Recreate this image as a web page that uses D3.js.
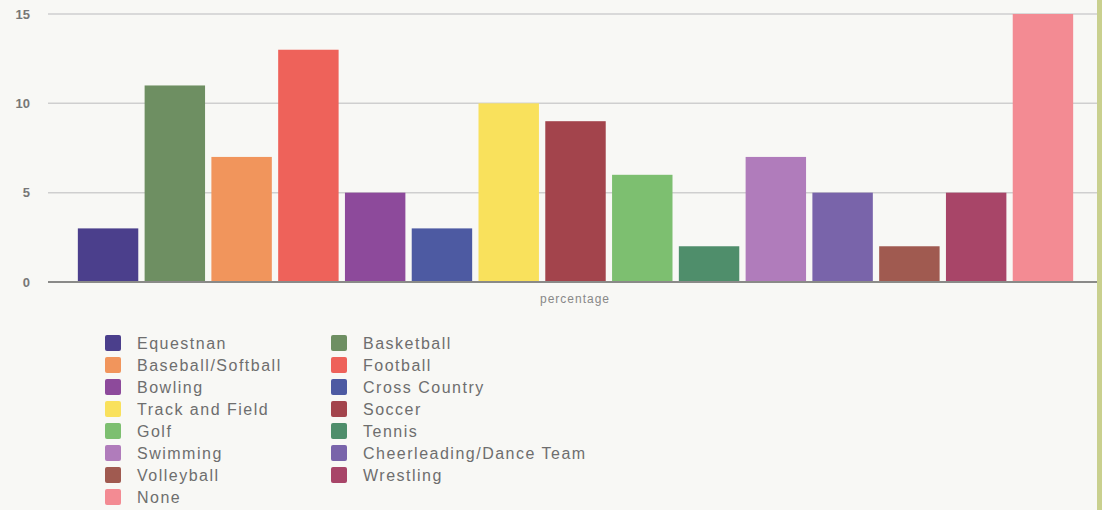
<!DOCTYPE html>
<html>
<head>
<meta charset="utf-8">
<script src="https://cdn.jsdelivr.net/npm/d3@7"></script>
<style>
  body { margin: 0; background: #f8f8f5; }
  svg { display: block; }
</style>
</head>
<body>
<div id="chart"></div>
<script>
// sports data
const sports = ["Equestnan", "Basketball", "Baseball/Softball", "Football", "Bowling",
  "Cross Country", "Track and Field", "Soccer", "Golf", "Tennis", "Swimming",
  "Cheerleading/Dance Team", "Volleyball", "Wrestling", "None"];
const values = [3, 11, 7, 13, 5, 3, 10, 9, 6, 2, 7, 5, 2, 5, 15];
const colors = ["#4b3f8c", "#6e8f62", "#f1955c", "#ee625a", "#8d4a9b",
  "#4d5aa2", "#f9e15c", "#a3444c", "#7dbf70", "#4f8e6b", "#b07cbb",
  "#7964aa", "#a05a50", "#a84568", "#f38b93"];
const yTicks = [0, 5, 10, 15];

const width = 1102, height = 510;

const svg = d3.select("#chart")
    .append("svg")
    .attr("width", width)
    .attr("height", height);

// scales
const x = d3.scaleBand()
    .domain(sports)
    .range([74.5, 1076.5])
    .paddingInner(0.095)
    .paddingOuter(0.05);

const y = d3.scaleLinear()
    .domain([0, 15])
    .range([282, 14]);

// gridlines
svg.append("g")
    .selectAll("line")
    .data(yTicks.filter(d => d > 0))
    .join("line")
    .attr("x1", 48)
    .attr("x2", 1097)
    .attr("y1", d => y(d))
    .attr("y2", d => y(d))
    .attr("stroke", "#cfcfcf")
    .attr("stroke-width", 1.5);

// y tick labels
svg.append("g")
    .selectAll("text")
    .data(yTicks)
    .join("text")
    .attr("x", 30)
    .attr("y", d => y(d))
    .attr("dy", "0.35em")
    .attr("text-anchor", "end")
    .style("font-family", "Liberation Sans, Arial, sans-serif")
    .style("font-size", "13px")
    .style("font-weight", "bold")
    .style("fill", "#777")
    .text(d => d);

// bars
svg.append("g")
    .selectAll("rect")
    .data(sports)
    .join("rect")
    .attr("x", d => x(d))
    .attr("width", x.bandwidth())
    .attr("y", (d, i) => y(values[i]))
    .attr("height", (d, i) => y(0) - y(values[i]))
    .attr("fill", (d, i) => colors[i]);

// baseline
svg.append("line")
    .attr("x1", 48)
    .attr("x2", 1097)
    .attr("y1", y(0))
    .attr("y2", y(0))
    .attr("stroke", "#8a8a88")
    .attr("stroke-width", 2);

// x axis label
svg.append("text")
    .attr("x", 575)
    .attr("y", 303)
    .attr("text-anchor", "middle")
    .style("font-family", "Liberation Sans, Arial, sans-serif")
    .style("font-size", "12px")
    .style("letter-spacing", "1px")
    .style("fill", "#888")
    .text("percentage");

// legend, two columns
const legend = svg.append("g")
    .selectAll("g")
    .data(sports)
    .join("g")
    .attr("transform", (d, i) => {
        const col = i % 2;
        const row = Math.floor(i / 2);
        return `translate(${col === 0 ? 105 : 331},${335 + row * 22})`;
    });

legend.append("rect")
    .attr("width", 16)
    .attr("height", 16)
    .attr("rx", 2)
    .attr("fill", (d, i) => colors[i]);

legend.append("text")
    .attr("x", 32)
    .attr("y", 8)
    .attr("dy", "0.35em")
    .style("font-family", "Liberation Sans, Arial, sans-serif")
    .style("font-size", "16px")
    .style("letter-spacing", "1.5px")
    .style("fill", "#6e6e6e")
    .text(d => d);

// green edge at right
svg.append("rect")
    .attr("x", 1097)
    .attr("y", 0)
    .attr("width", 5)
    .attr("height", height)
    .attr("fill", "#c9d08e");
</script>
</body>
</html>
